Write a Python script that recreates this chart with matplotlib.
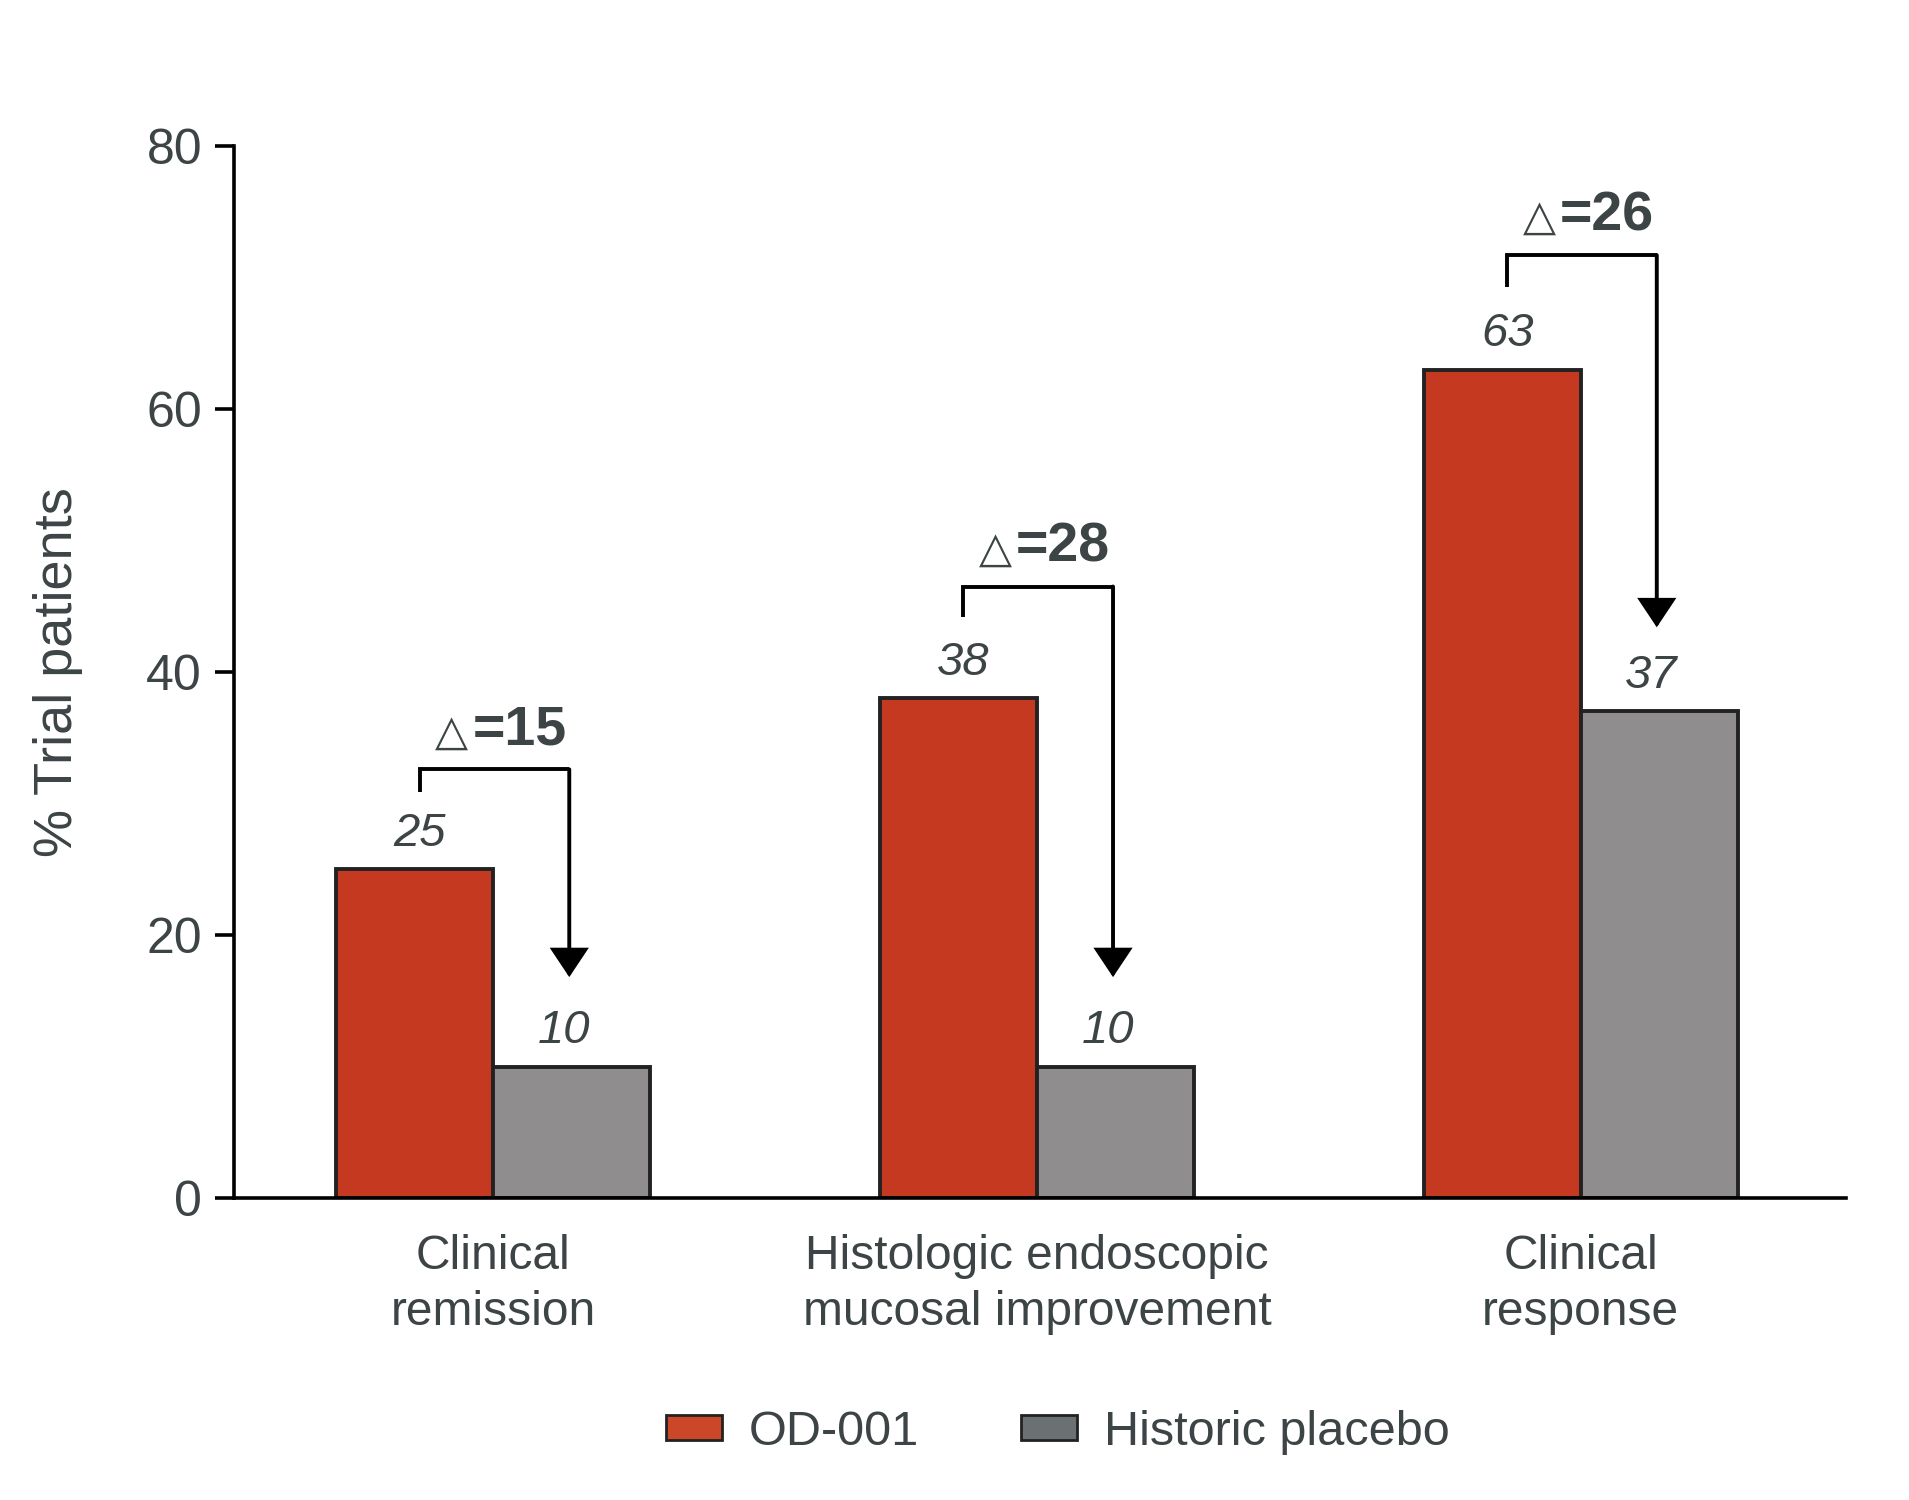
import matplotlib
matplotlib.use("Agg")
import matplotlib.pyplot as plt
from matplotlib.patches import Patch

categories = ["Clinical\nremission", "Histologic endoscopic\nmucosal improvement", "Clinical\nresponse"]
od001 = [25, 38, 63]
placebo = [10, 10, 37]
deltas = [15, 28, 26]
series_names = ["OD-001", "Historic placebo"]
yticks = [0, 20, 40, 60, 80]

# annotation bracket geometry (data units)
bracket_top = [32.6, 46.5, 71.7]
leg_bottom = [30.9, 44.2, 69.3]
arrow_tip = [16.8, 16.8, 43.4]

RED = "#C4391F"
GRAY = "#8F8D8D"
LEG_RED = "#CC4628"
LEG_GRAY = "#6B7173"
TXT = "#3D4446"

plt.rcParams['font.family'] = ['Liberation Sans', 'DejaVu Sans']

fig = plt.figure(figsize=(19.09, 15), dpi=100)
ax = fig.add_axes([0.1226, 0.2013, 0.967 - 0.1226, 0.9027 - 0.2013])

w = 0.289
x = list(range(len(categories)))
ax.bar([i - w / 2 for i in x], od001, width=w, color=RED, edgecolor="#222222", linewidth=2.8, zorder=2)
ax.bar([i + w / 2 for i in x], placebo, width=w, color=GRAY, edgecolor="#222222", linewidth=2.8, zorder=2)

lx_off, rx_off = -0.135, 0.14
for i in x:
    lx = i + lx_off
    rx = i + rx_off
    cx = (lx + rx) / 2
    ax.plot([lx, lx, rx], [leg_bottom[i], bracket_top[i], bracket_top[i]], color="black", lw=2.8,
            solid_joinstyle="miter", solid_capstyle="butt", zorder=3)
    ax.annotate("", xy=(rx, arrow_tip[i]), xytext=(rx, bracket_top[i]),
                arrowprops=dict(arrowstyle="-|>,head_length=0.75,head_width=0.5", lw=2.8, color="black",
                                mutation_scale=23, shrinkA=0, shrinkB=0, joinstyle="miter"), zorder=3)
    ytxt = bracket_top[i] + 1.9
    ax.annotate("\u25B3", xy=(cx, ytxt), xytext=(-31, 0), textcoords="offset points",
                ha="center", va="baseline", fontsize=31, fontweight="bold", color=TXT, family=['DejaVu Sans'])
    ax.annotate("=%d" % deltas[i], xy=(cx, ytxt), xytext=(18, 0), textcoords="offset points",
                ha="center", va="baseline", fontsize=40, fontweight="bold", color=TXT)
    ax.text(lx, od001[i] + 2.7, str(od001[i]), ha="center", va="center", fontsize=34, style="italic", color=TXT)
    ax.text(rx - 0.01, placebo[i] + 2.7, str(placebo[i]), ha="center", va="center", fontsize=34, style="italic", color=TXT)

ax.set_xlim(-0.4765, 2.488)
ax.set_ylim(0, 80)
ax.set_yticks(yticks)
ax.set_xticks(x)
ax.set_xticklabels(categories, fontsize=34.5, color=TXT, linespacing=1.3)
ax.tick_params(axis="x", length=0, pad=26)
ax.tick_params(axis="y", length=14, width=2.6, labelsize=36, labelcolor=TXT, pad=9, direction="out")
for s in ["top", "right"]:
    ax.spines[s].set_visible(False)
for s in ["left", "bottom"]:
    ax.spines[s].set_linewidth(2.6)
ax.set_ylabel("% Trial patients", fontsize=39, color=TXT)
ax.yaxis.set_label_coords(-0.094, 0.5)

handles = [Patch(facecolor=LEG_RED, edgecolor="#222222", linewidth=2),
           Patch(facecolor=LEG_GRAY, edgecolor="#222222", linewidth=2)]
fig.legend(handles, series_names, loc="center", bbox_to_anchor=(0.554, 0.045), ncol=2, frameon=False,
           fontsize=35, labelcolor=TXT, handlelength=1.15, handleheight=0.4, columnspacing=2.1, handletextpad=0.55)

fig.savefig("out.png", dpi=100)
